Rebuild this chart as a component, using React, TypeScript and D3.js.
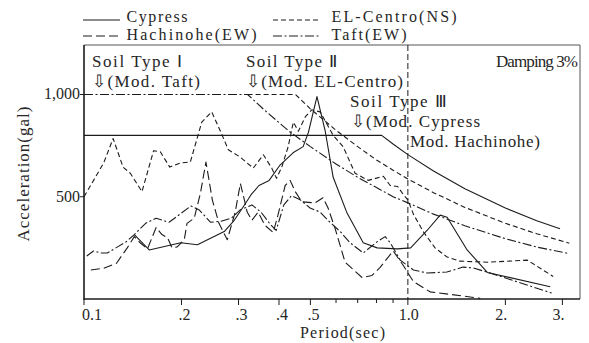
import React from 'react';
import * as d3 from 'd3';

// ---- axis ticks ----
const periodTicks = [0.1, 0.2, 0.3, 0.4, 0.5, 1.0, 2.0, 3.0];
const periodTickLabels = ['0.1', '.2', '.3', '.4', '.5', '1.0', '2.', '3.'];
const periodMinorTicks = [0.6, 0.7, 0.8, 0.9];
const accelTicks = [500, 1000];
const accelTickLabels = ['500', '1,000'];

// ---- response spectra of the input motions: [period (sec), acceleration (gal)] ----
const cypress: [number, number][] = [
  [0.143, 315], [0.159, 240], [0.199, 275], [0.224, 265], [0.271, 330], [0.291, 385],
  [0.31, 450], [0.328, 510], [0.347, 555], [0.373, 580], [0.403, 655], [0.442, 715],
  [0.475, 745], [0.493, 815], [0.524, 990], [0.555, 825], [0.588, 595], [0.649, 420],
  [0.728, 275], [0.804, 250], [0.927, 245], [1.02, 250], [1.146, 335], [1.258, 410],
  [1.322, 400], [1.524, 240], [1.759, 130], [2.751, 60],
];

const elCentro: [number, number][] = [
  [0.1, 500], [0.115, 665], [0.123, 785], [0.132, 645], [0.139, 615], [0.151, 525],
  [0.164, 725], [0.172, 720], [0.184, 645], [0.198, 665], [0.213, 670], [0.231, 865],
  [0.248, 915], [0.263, 825], [0.279, 730], [0.303, 695], [0.333, 640], [0.358, 705],
  [0.38, 640], [0.393, 590], [0.408, 645], [0.427, 745], [0.443, 865], [0.459, 820],
  [0.482, 890], [0.505, 925], [0.536, 915], [0.588, 800], [0.631, 745], [0.687, 615],
  [0.754, 580], [0.84, 600], [0.882, 555], [0.93, 550], [0.969, 510], [1.0, 485],
  [1.04, 415], [1.115, 330], [1.213, 250], [1.322, 205], [1.45, 185], [1.76, 180],
  [2.34, 190], [2.81, 110],
];

const hachinohe: [number, number][] = [
  [0.105, 142], [0.115, 150], [0.126, 175], [0.136, 250], [0.143, 305], [0.149, 275],
  [0.157, 245], [0.167, 350], [0.174, 315], [0.181, 300], [0.187, 250], [0.194, 255],
  [0.204, 290], [0.208, 370], [0.219, 395], [0.229, 520], [0.238, 670], [0.249, 485],
  [0.261, 370], [0.277, 290], [0.293, 425], [0.304, 565], [0.31, 510], [0.319, 425],
  [0.33, 385], [0.345, 425], [0.362, 360], [0.384, 325], [0.397, 410], [0.418, 555],
  [0.433, 580], [0.449, 525], [0.471, 475], [0.517, 470], [0.547, 495], [0.567, 445],
  [0.596, 345], [0.64, 180], [0.722, 105], [0.775, 115], [0.821, 155], [0.901, 235],
  [0.967, 165], [1.04, 85], [1.171, 35], [1.557, 10], [1.672, 3],
];

const taft: [number, number][] = [
  [0.102, 210], [0.107, 235], [0.113, 225], [0.118, 225], [0.127, 255], [0.135, 280],
  [0.143, 315], [0.155, 370], [0.167, 395], [0.183, 375], [0.214, 455], [0.227, 435],
  [0.246, 375], [0.265, 380], [0.285, 395], [0.303, 435], [0.33, 460], [0.352, 425],
  [0.376, 365], [0.392, 335], [0.414, 460], [0.437, 505], [0.465, 485], [0.499, 445],
  [0.536, 425], [0.575, 375], [0.618, 330], [0.663, 275], [0.728, 225], [0.804, 280],
  [0.851, 305], [0.882, 275], [0.947, 190], [1.04, 142], [1.146, 127], [1.32, 132],
  [1.48, 156], [1.59, 152], [1.795, 127], [2.78, 29],
];

// ---- design spectra ----
const soilTypeI: [number, number][] = [
  [0.1, 1000], [0.32, 1000], [0.36, 925], [0.43, 820], [0.5, 745], [0.6, 660], [0.7, 595],
  [0.8, 545], [0.9, 500], [1.0, 470], [1.2, 415], [1.5, 358], [2.0, 295], [2.5, 254], [3.15, 222],
];
const soilTypeII: [number, number][] = [
  [0.32, 1000], [0.45, 1000], [0.5, 930], [0.6, 825], [0.7, 745], [0.8, 680], [0.9, 630],
  [1.0, 587], [1.2, 520], [1.5, 448], [2.0, 370], [2.5, 319], [3.15, 273],
];
const soilTypeIII: [number, number][] = [
  [0.1, 800], [0.83, 800], [0.9, 758], [1.0, 706], [1.2, 626], [1.5, 539], [2.0, 445],
  [2.5, 383], [2.95, 344],
];

const legendNames = ['Cypress', 'EL-Centro(NS)', 'Hachinohe(EW)', 'Taft(EW)'];

const INK = '#1c1c1c';
const TEXT_INK = '#262626';
const FONT = "'Liberation Serif', 'Times New Roman', serif";

const dash: Record<string, string | undefined> = {
  solid: undefined,
  short: '5 3',
  long: '9 4',
  dashDot: '9 2.5 2 2.5',
};

function Txt(props: {
  x: number; y: number; w?: number; size?: number; anchor?: string; children: React.ReactNode; transform?: string;
}) {
  const { x, y, w, size = 17, anchor = 'start', children, transform } = props;
  return (
    <text
      x={x}
      y={y}
      fontSize={size}
      fontFamily={FONT}
      fill={TEXT_INK}
      textAnchor={anchor}
      transform={transform}
      {...(w ? { textLength: w, lengthAdjust: 'spacing' } : {})}
    >
      {children}
    </text>
  );
}

export default function App() {
  const left = 84, right = 580, top = 45, bottom = 299;
  const x = d3.scaleLog().domain([0.1, 3.4]).range([left, right]);
  const y = d3.scaleLinear().domain([0, 1242]).range([bottom, top]);
  const line = d3.line<[number, number]>().x(d => x(d[0])).y(d => y(d[1]));

  const series = [
    { data: soilTypeI, style: 'dashDot' },
    { data: soilTypeII, style: 'short' },
    { data: soilTypeIII, style: 'solid' },
    { data: cypress, style: 'solid' },
    { data: elCentro, style: 'short' },
    { data: hachinohe, style: 'long' },
    { data: taft, style: 'dashDot' },
  ];

  const legendStyles = ['solid', 'short', 'long', 'dashDot'];
  const legendWidths = [61, 125, 130, 75];
  const legendCols = [{ x0: 83, x1: 120, tx: 126.5 }, { x0: 273, x1: 320, tx: 331.5 }];
  const legendRows = [{ ly: 20, ty: 21.5 }, { ly: 36, ty: 39.5 }];

  return (
    <svg
      width={589}
      height={343}
      style={{ position: 'fixed', left: 0, top: 0, background: '#fff' }}
    >
      <rect x={0} y={0} width={589} height={343} fill="#fff" />

      {/* legend */}
      {legendNames.map((name, i) => {
        const c = legendCols[i % 2];
        const r = legendRows[Math.floor(i / 2)];
        return (
          <g key={name}>
            <line x1={c.x0} x2={c.x1} y1={r.ly} y2={r.ly} stroke={INK} strokeWidth={1.1}
              strokeDasharray={dash[legendStyles[i]]} />
            <Txt x={c.tx} y={r.ty} w={legendWidths[i]} size={16}>{name}</Txt>
          </g>
        );
      })}

      {/* frame */}
      <line x1={left} x2={right} y1={top} y2={top} stroke="#555" strokeWidth={1} />
      <line x1={right} x2={right} y1={top} y2={bottom} stroke="#555" strokeWidth={1} />
      <line x1={left} x2={left} y1={top} y2={bottom + 1} stroke={INK} strokeWidth={1.6} />
      <line x1={left} x2={right} y1={bottom} y2={bottom} stroke={INK} strokeWidth={1.6} />

      {/* y ticks */}
      {accelTicks.map((t, i) => (
        <g key={t}>
          <line x1={left - 4} x2={left} y1={y(t)} y2={y(t)} stroke={INK} strokeWidth={1} />
          <Txt x={left - 4} y={y(t) + 5} size={16} anchor="end">{accelTickLabels[i]}</Txt>
        </g>
      ))}

      {/* x ticks */}
      {periodTicks.map((t, i) => {
        const lab = periodTickLabels[i];
        const dx = lab.startsWith('.') ? 3 : lab.endsWith('.') ? -4 : t === 0.1 ? 8 : 1;
        return (
          <g key={t}>
            <line x1={x(t)} x2={x(t)} y1={bottom} y2={bottom + 6} stroke={INK} strokeWidth={1} />
            <Txt x={x(t) + dx} y={319.5} size={16} anchor="middle">{lab}</Txt>
          </g>
        );
      })}
      {periodMinorTicks.map(t => (
        <line key={t} x1={x(t)} x2={x(t)} y1={bottom} y2={bottom + 4} stroke={INK} strokeWidth={1} />
      ))}

      {/* axis titles */}
      <Txt x={300} y={338} w={85} size={16}>Period(sec)</Txt>
      <Txt x={0} y={0} w={135} transform="translate(28.5,241.5) rotate(-90)">Acceleration(gal)</Txt>

      {/* T = 1.0 sec marker */}
      <line x1={x(1)} x2={x(1)} y1={top} y2={bottom} stroke={INK} strokeWidth={1} strokeDasharray="6 3" />

      {/* spectra */}
      {series.map((s, i) => (
        <path key={i} d={line(s.data) || ''} fill="none" stroke={INK} strokeWidth={1.1}
          strokeDasharray={dash[s.style]} strokeLinejoin="round" />
      ))}

      {/* annotations */}
      <Txt x={92} y={67} w={90}>Soil Type Ⅰ</Txt>
      <Txt x={92} y={87} w={108}>⇩(Mod. Taft)</Txt>
      <Txt x={246} y={67} w={91}>Soil Type Ⅱ</Txt>
      <Txt x={246} y={87} w={157}>⇩(Mod. EL-Centro)</Txt>
      <Txt x={350} y={107} w={97}>Soil Type Ⅲ</Txt>
      <Txt x={351} y={127} w={129}>⇩(Mod. Cypress</Txt>
      <Txt x={410} y={147} w={130}>Mod. Hachinohe)</Txt>
      <Txt x={496} y={67} w={82}>Damping 3%</Txt>
    </svg>
  );
}
